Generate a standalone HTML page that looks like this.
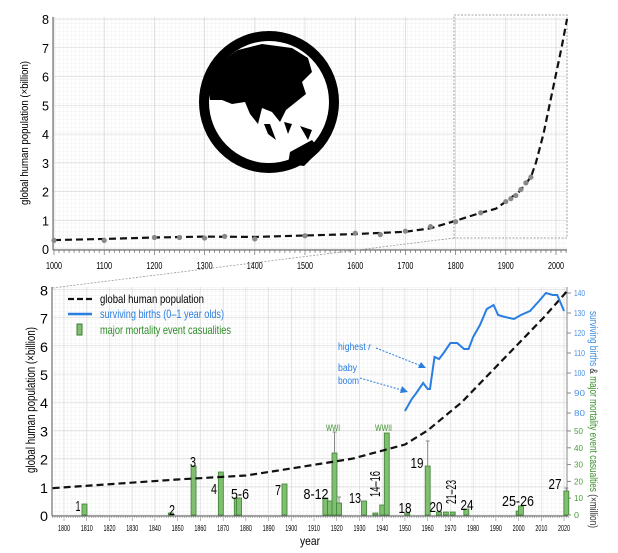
<!DOCTYPE html>
<html><head><meta charset="utf-8"><style>
body{margin:0;background:#fff;overflow:hidden;}
svg{display:block;font-family:"Liberation Sans",sans-serif;}
</style></head><body>
<svg id="s" width="618" height="553" viewBox="0 0 618 553" xmlns="http://www.w3.org/2000/svg">
<defs>
<pattern id="g" width="4" height="4" patternUnits="userSpaceOnUse"><path d="M4 0V4M0 4H4" stroke="#e6e6e6" stroke-width="0.6" fill="none"/></pattern>
</defs>
</svg>
<script>
const s=document.getElementById('s');let h='';
const T=(x,y,fs,len,str,extra='')=>`<text x="${x}" y="${y}" font-size="${fs}" ${len?`textLength="${len}" lengthAdjust="spacingAndGlyphs"`:''} ${extra}>${str}</text>`;
// TOP CHART
const tx=y=>54+(y-1000)*0.502, ty=v=>249-v*28.75;
h+=`<rect x="54" y="17" width="513" height="232" fill="url(#g)"/>`;
for(let y=1000;y<=2000;y+=100)h+=`<line x1="${tx(y)}" y1="17" x2="${tx(y)}" y2="249" stroke="#d0d0d0" stroke-width="0.6"/>`;
for(let v=0;v<=8;v++)h+=`<line x1="54" y1="${ty(v)}" x2="567" y2="${ty(v)}" stroke="#d0d0d0" stroke-width="0.6"/>`;
h+=`<line x1="53" y1="17" x2="53" y2="250" stroke="#555"/><line x1="53" y1="250" x2="567" y2="250" stroke="#555"/>`;
for(let y=1000;y<=2020;y+=10)h+=`<line x1="${tx(y)}" y1="250" x2="${tx(y)}" y2="${y%100?253:255}" stroke="#555" stroke-width="0.6"/>`;
for(let y=1000;y<=2000;y+=100)h+=T(tx(y)-8,269,10,16,y);
for(let v=0;v<=8;v++)h+=T(42,ty(v)+5,13,7,v);
h+=`<text transform="translate(28,133) rotate(-90)" font-size="11" text-anchor="middle" textLength="144" lengthAdjust="spacingAndGlyphs">global human population (×billion)</text>`;
h+=`<rect x="454" y="15" width="113" height="223" fill="none" stroke="#888" stroke-dasharray="2,1.5" stroke-width="0.8"/>`;
h+=`<line x1="454" y1="238" x2="52" y2="288" stroke="#999" stroke-dasharray="2,1.5" stroke-width="0.8"/>`;
const P=[[1000,.31],[1100,.35],[1200,.4],[1300,.43],[1400,.42],[1500,.47],[1600,.52],[1700,.6],[1750,.72],[1800,.98],[1850,1.26],[1880,1.4],[1900,1.65],[1927,2.0],[1950,2.5],[1960,3.0],[1975,4.0],[1987,5.0],[1999,6.0],[2011,7.0],[2022,8.0]];
h+=`<path d="M${P.map(p=>tx(p[0])+','+ty(p[1])).join('L')}" fill="none" stroke="#111" stroke-width="2.2" stroke-dasharray="7,4"/>`;
[[1000,.3],[1100,.3],[1200,.4],[1250,.4],[1300,.38],[1340,.44],[1400,.35],[1500,.46],[1600,.55],[1650,.5],[1700,.62],[1750,.78],[1800,.95],[1850,1.26],[1900,1.65],[1910,1.75],[1920,1.86],[1930,2.07],[1940,2.3],[1950,2.5]].forEach(p=>h+=`<circle cx="${tx(p[0])}" cy="${ty(p[1])}" r="2.6" fill="#888"/>`);
// globe
h+=`<ellipse cx="269" cy="102" rx="65" ry="66" fill="#fff" stroke="#000" stroke-width="10"/>`;
h+=`<path d="M208 84 C214 70 225 58 238 50 L262 44 L292 48 L308 58 L312 72 L302 82 L306 94 L296 102 L286 110 L280 122 L272 112 L262 108 L258 124 L250 114 L245 102 L232 104 L222 100 L210 100 Z" fill="#000"/>`;
h+=`<path d="M264 124 L270 124 L276 140 L268 134 Z M284 122 L292 124 L288 134 Z M300 126 L312 130 L308 140 Z M290 152 L312 140 L320 150 L304 166 L288 164 Z" fill="#000"/>`;
// BOTTOM CHART
const bx=y=>64+(y-1800)*2.273, by=v=>515-v*28.2, bb=b=>293+(140-b)*2, bc=c=>515-c*1.68;
h+=`<rect x="53" y="287" width="514" height="228" fill="url(#g)"/>`;
for(let y=1800;y<=2020;y+=10)h+=`<line x1="${bx(y)}" y1="287" x2="${bx(y)}" y2="515" stroke="#d8d8d8" stroke-width="0.6"/>`;
for(let v=0;v<=8;v++)h+=`<line x1="53" y1="${by(v)}" x2="567" y2="${by(v)}" stroke="#d8d8d8" stroke-width="0.6"/>`;
h+=`<line x1="52" y1="287" x2="52" y2="516" stroke="#555"/><line x1="52" y1="516" x2="568" y2="516" stroke="#555"/><line x1="567" y1="287" x2="567" y2="516" stroke="#888"/>`;
for(let y=1795;y<=2022;y+=1)h+=`<line x1="${bx(y)}" y1="516" x2="${bx(y)}" y2="${y%10?518:521}" stroke="#777" stroke-width="0.5"/>`;
for(let y=1800;y<=2020;y+=10)h+=T(bx(y)-6,531,8,12,y);
h+=T(300,545,12,20,'year');
for(let v=0;v<=8;v++)h+=T(40,by(v)+6,14,8,v);
h+=`<text transform="translate(35,400) rotate(-90)" font-size="13" text-anchor="middle" textLength="146" lengthAdjust="spacingAndGlyphs">global human population (×billion)</text>`;
for(let b=80;b<=140;b+=10)h+=`<line x1="567" y1="${bb(b)}" x2="571" y2="${bb(b)}" stroke="#888"/>`+T(574,bb(b)+3,8,11,b,'fill="#4a90e2"');
for(let c=0;c<=50;c+=10)h+=`<line x1="567" y1="${bc(c)}" x2="571" y2="${bc(c)}" stroke="#888"/>`+T(574,bc(c)+3,8,c?9:5,c,'fill="#4c9a3c"');
h+=`<text transform="translate(590,311) rotate(90)" font-size="11" textLength="217" lengthAdjust="spacingAndGlyphs"><tspan fill="#3a8be0">surviving births</tspan><tspan fill="#333"> &amp; </tspan><tspan fill="#3d8f2f">major mortality event casualties</tspan><tspan fill="#333"> (×million)</tspan></text>`;
const B=[[1809,504],[1847,513],[1857,466],[1869,472],[1876,498],[1877,498],[1897,484],[1915,498],[1917,501],[1919,453],[1921,503],[1932,501],[1937,513],[1940,505],[1942,433],[1951,513],[1960,466],[1965,512],[1968,512],[1971,512],[1977,509],[2000,511],[2001,506],[2021,491]];
B.forEach(b=>{let x=bx(b[0]);h+=`<rect x="${x-2.5}" y="${b[1]}" width="5" height="${515-b[1]}" fill="#7fbf6f" stroke="#3f7f35" stroke-width="0.8"/>`;});
[[1919,432,453],[1960,441,466],[1921,497,503],[2021,488,491]].forEach(e=>{let x=bx(e[0]);h+=`<line x1="${x}" y1="${e[1]}" x2="${x}" y2="${e[2]}" stroke="#888"/><line x1="${x-2}" y1="${e[1]}" x2="${x+2}" y2="${e[1]}" stroke="#888"/>`;});
const Q=P.filter(p=>p[0]>=1800);Q.unshift([1795,.95]);
h+=`<path d="M${Q.map(p=>bx(p[0])+','+by(p[1])).join('L')}" fill="none" stroke="#111" stroke-width="2.2" stroke-dasharray="7,4"/>`;
const R=[[1950,81],[1953,87],[1955,90],[1958,95],[1960,92],[1961,92],[1963,108],[1965,107],[1967,110],[1970,115],[1973,115],[1976,112],[1978,112],[1980,118],[1983,124],[1986,132],[1989,134],[1991,129],[1994,128],[1998,127],[2001,129],[2005,131],[2009,136],[2012,140],[2015,139],[2017,139],[2020,131]];
h+=`<path d="M${R.map(p=>bx(p[0])+','+bb(p[1])).join('L')}" fill="none" stroke="#2a7ee0" stroke-width="2"/>`;
// legend
h+=`<line x1="68" y1="299" x2="92" y2="299" stroke="#111" stroke-width="2.2" stroke-dasharray="6,3"/>`+T(100,303,12,104,'global human population');
h+=`<line x1="68" y1="314" x2="92" y2="314" stroke="#2a7ee0" stroke-width="2.5"/>`+T(100,318,12,124,'surviving births (0–1 year olds)','fill="#2a7ee0"');
h+=`<rect x="77" y="324" width="5" height="11" fill="#7fbf6f" stroke="#3f7f35"/>`+T(100,334,12,131,'major mortality event casualities','fill="#2f8a2a"');
h+=T(338,350,10,33,'highest <tspan font-style="italic">r</tspan>','fill="#2a7ee0"');
h+=T(338,371,10,19,'baby','fill="#2a7ee0"')+T(338,384,10,21,'boom','fill="#2a7ee0"');
h+=`<line x1="376" y1="348" x2="424" y2="367" stroke="#2a7ee0" stroke-dasharray="2,1.5"/><path d="M426 368 L418 368 L421 362 Z" fill="#2a7ee0"/>`;
h+=`<line x1="360" y1="378" x2="405" y2="391" stroke="#2a7ee0" stroke-dasharray="2,1.5"/><path d="M408 392 L400 393 L402 386 Z" fill="#2a7ee0"/>`;
const L=[["1",78,511,5],["2",172,515,6],["3",193,467,6],["4",214,494,6],["5-6",240,499,18],["7",278,495,6],["8-12",316,499,25],["13",355,503,12],["18",405,513,13],["19",417,468,13],["20",436,512,13],["24",467,510,13],["25-26",518,506,32],["27",555,489,13]];
L.forEach(l=>h+=T(l[1]-l[3]/2,l[2],15,l[3],l[0]));
h+=`<text transform="translate(380,484) rotate(-90)" font-size="15" text-anchor="middle" textLength="26" lengthAdjust="spacingAndGlyphs">14–16</text>`;
h+=`<text transform="translate(456,492) rotate(-90)" font-size="15" text-anchor="middle" textLength="24" lengthAdjust="spacingAndGlyphs">21–23</text>`;
h+=T(326,431,9,14,'WWI','fill="#3d8f2f"')+T(375,431,9,17,'WWII','fill="#3d8f2f"');
s.insertAdjacentHTML('beforeend',h);
</script>
</body></html>
